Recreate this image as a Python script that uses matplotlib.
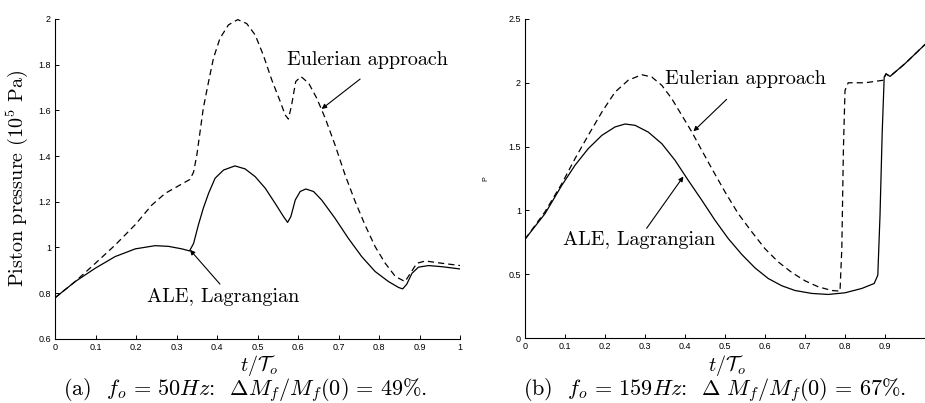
import numpy as np
import matplotlib
matplotlib.use("Agg")
import matplotlib.pyplot as plt

plt.rcParams['mathtext.fontset'] = 'cm'
plt.rcParams['axes.formatter.use_mathtext'] = True

# (a) f_o = 50 Hz
t_a_eul = [0, 0.049, 0.099, 0.148, 0.198, 0.239, 0.272, 0.305, 0.333, 0.342,
           0.35, 0.358, 0.366, 0.379, 0.391, 0.407, 0.428, 0.451, 0.473, 0.494,
           0.514, 0.535, 0.556, 0.568, 0.576, 0.584, 0.594, 0.607, 0.626, 0.646,
           0.667, 0.691, 0.716, 0.741, 0.765, 0.79, 0.815, 0.84, 0.864, 0.877,
           0.893, 0.914, 0.955, 1.0]
p_a_eul = [0.78, 0.85, 0.93, 1.01, 1.10, 1.186, 1.237, 1.27, 1.298, 1.33,
           1.405, 1.507, 1.61, 1.726, 1.828, 1.915, 1.974, 1.997, 1.98, 1.93,
           1.842, 1.733, 1.638, 1.58, 1.562, 1.624, 1.726, 1.748, 1.719, 1.653,
           1.565, 1.449, 1.317, 1.20, 1.099, 1.004, 0.931, 0.873, 0.851, 0.887,
           0.931, 0.941, 0.931, 0.921]

t_a_ale = [0, 0.049, 0.099, 0.148, 0.198, 0.247, 0.28, 0.313, 0.332, 0.342,
           0.354, 0.366, 0.379, 0.395, 0.416, 0.444, 0.469, 0.494, 0.519, 0.543,
           0.564, 0.574, 0.582, 0.593, 0.605, 0.619, 0.638, 0.658, 0.691, 0.724,
           0.757, 0.79, 0.823, 0.848, 0.858, 0.868, 0.881, 0.897, 0.922, 0.955,
           1.0]
p_a_ale = [0.78, 0.85, 0.909, 0.96, 0.994, 1.008, 1.005, 0.994, 0.985, 1.018,
           1.10, 1.172, 1.237, 1.303, 1.339, 1.357, 1.344, 1.31, 1.259, 1.194,
           1.135, 1.11, 1.135, 1.208, 1.245, 1.256, 1.245, 1.208, 1.128, 1.04,
           0.96, 0.895, 0.851, 0.825, 0.819, 0.839, 0.887, 0.914, 0.921, 0.916,
           0.906]

# (b) f_o = 159 Hz
t_b_eul = [0, 0.05, 0.092, 0.125, 0.158, 0.192, 0.225, 0.258, 0.292, 0.317,
           0.342, 0.367, 0.392, 0.417, 0.442, 0.467, 0.5, 0.533, 0.567, 0.6,
           0.633, 0.667, 0.7, 0.733, 0.767, 0.7875, 0.792, 0.796, 0.8, 0.808,
           0.85, 0.896, 0.9025, 0.9125, 0.95, 1.0]
p_b_eul = [0.775, 0.99, 1.21, 1.406, 1.588, 1.77, 1.927, 2.02, 2.063, 2.045,
           1.98, 1.875, 1.745, 1.615, 1.47, 1.328, 1.145, 0.975, 0.832, 0.70,
           0.597, 0.514, 0.449, 0.402, 0.373, 0.368, 0.70, 1.48, 1.94, 2.0,
           2.0, 2.02, 2.07, 2.05, 2.15, 2.30]

t_b_ale = [0, 0.05, 0.092, 0.125, 0.158, 0.192, 0.225, 0.25, 0.275, 0.308,
           0.342, 0.375, 0.408, 0.442, 0.475, 0.508, 0.542, 0.575, 0.608, 0.642,
           0.675, 0.717, 0.758, 0.8, 0.842, 0.873, 0.882, 0.8875, 0.893, 0.898,
           0.9025, 0.9125, 0.95, 1.0]
p_b_ale = [0.775, 0.975, 1.197, 1.354, 1.484, 1.588, 1.654, 1.677, 1.667, 1.614,
           1.523, 1.393, 1.236, 1.08, 0.923, 0.78, 0.655, 0.55, 0.467, 0.41,
           0.373, 0.35, 0.342, 0.355, 0.389, 0.428, 0.493, 0.96, 1.61, 2.045,
           2.07, 2.05, 2.15, 2.30]

xticks_a = [0, 0.1, 0.2, 0.3, 0.4, 0.5, 0.6, 0.7, 0.8, 0.9, 1.0]
xlabels_a = ['0', '0.1', '0.2', '0.3', '0.4', '0.5', '0.6', '0.7', '0.8', '0.9', '1']
yticks_a = [0.6, 0.8, 1.0, 1.2, 1.4, 1.6, 1.8, 2.0]
ylabels_a = ['0.6', '0.8', '1', '1.2', '1.4', '1.6', '1.8', '2']
xticks_b = xticks_a[:-1]
xlabels_b = xlabels_a[:-1]
yticks_b = [0, 0.5, 1.0, 1.5, 2.0, 2.5]
ylabels_b = ['0', '0.5', '1', '1.5', '2', '2.5']

TICKFONT = dict(family='Liberation Sans', size=6.5)
SERIF = 'cmr10'
DASH = (0, (5, 3.2))


def style_axes(ax, xt, xl, yt, yl):
  for side in ('top', 'right'):
    ax.spines[side].set_visible(False)
  for side in ('left', 'bottom'):
    ax.spines[side].set_linewidth(0.8)
  ax.tick_params(direction='in', length=3, width=0.7, pad=3)
  ax.set_xticks(xt)
  ax.set_xticklabels(xl, **TICKFONT)
  ax.set_yticks(yt)
  ax.set_yticklabels(yl, **TICKFONT)


def arrow(ax, text_xy, tip_xy):
  ax.annotate('', xy=tip_xy, xytext=text_xy,
              arrowprops=dict(arrowstyle='-|>', color='k', lw=0.8,
                              mutation_scale=7, shrinkA=0, shrinkB=0))


fig = plt.figure(figsize=(9.25, 4.03), dpi=100)

ax1 = fig.add_axes([0.0595, 0.159, 0.438, 0.794])
ax1.plot(t_a_eul, p_a_eul, color='k', lw=0.9, linestyle=DASH)
ax1.plot(t_a_ale, p_a_ale, color='k', lw=0.9)
ax1.set_xlim(0, 1)
ax1.set_ylim(0.6, 2.0)
style_axes(ax1, xticks_a, xlabels_a, yticks_a, ylabels_a)
ax1.set_ylabel(r'Piston pressure (10$^5$ Pa)', family=SERIF, fontsize=14.5, labelpad=6)
ax1.text(0.573, 1.82, 'Eulerian approach', family=SERIF, fontsize=14.5, va='center')
arrow(ax1, (0.753, 1.737), (0.658, 1.606))
ax1.text(0.226, 0.785, 'ALE, Lagrangian', family=SERIF, fontsize=14.5, va='center')
arrow(ax1, (0.407, 0.84), (0.333, 0.99))
fig.text(0.28, 0.094, r'$t/\mathcal{T}_o$', fontsize=14.5, ha='center', va='center')
fig.text(0.265, 0.031, r'(a)  $f_o\,=\,50Hz$:  $\Delta M_f/M_f(0)\,=\,49\%$.',
         family=SERIF, fontsize=16, ha='center', va='center')

ax2 = fig.add_axes([0.5676, 0.161, 0.4324, 0.792])
ax2.plot(t_b_eul, p_b_eul, color='k', lw=0.9, linestyle=DASH)
ax2.plot(t_b_ale, p_b_ale, color='k', lw=0.9)
ax2.set_xlim(0, 1)
ax2.set_ylim(0, 2.5)
style_axes(ax2, xticks_b, xlabels_b, yticks_b, ylabels_b)
ax2.set_ylabel('P', family='Liberation Sans', fontsize=5, labelpad=14)
ax2.text(0.35, 2.03, 'Eulerian approach', family=SERIF, fontsize=14.5, va='center')
arrow(ax2, (0.504, 1.87), (0.421, 1.62))
ax2.text(0.096, 0.77, 'ALE, Lagrangian', family=SERIF, fontsize=14.5, va='center')
arrow(ax2, (0.304, 0.86), (0.396, 1.266))
fig.text(0.786, 0.094, r'$t/\mathcal{T}_o$', fontsize=14.5, ha='center', va='center')
fig.text(0.772, 0.031, r'(b)  $f_o\,=\,159Hz$:  $\Delta\ M_f/M_f(0)\,=\,67\%$.',
         family=SERIF, fontsize=16, ha='center', va='center')

fig.savefig('out.png', dpi=100)
